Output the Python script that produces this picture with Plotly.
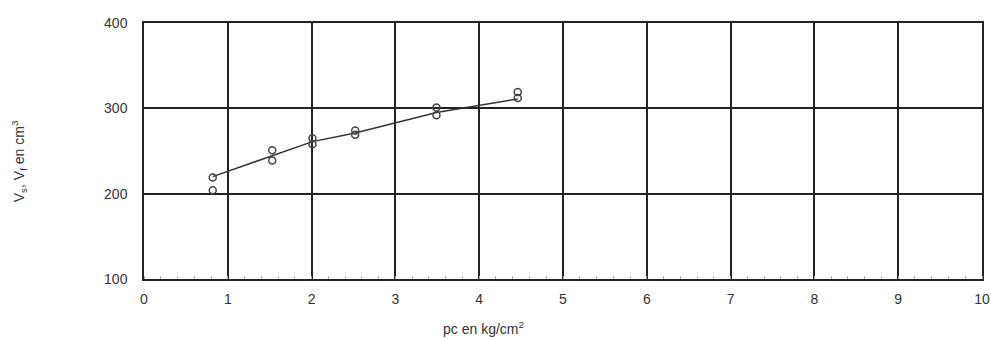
import plotly.graph_objects as go

# Data
pc = [0.82, 1.53, 2.01, 2.52, 3.49, 4.46]
v_upper = [219, 251, 265, 274, 301, 319]
v_lower = [204, 239, 258, 269, 292, 312]
v_line = [220, 245, 261, 271, 295, 311]

x_ticks = [0, 1, 2, 3, 4, 5, 6, 7, 8, 9, 10]
y_ticks = [100, 200, 300, 400]

fig = go.Figure()
fig.add_trace(go.Scatter(x=pc, y=v_line, mode="lines",
                         line=dict(color="#333333", width=1.5), showlegend=False))
fig.add_trace(go.Scatter(x=pc, y=v_upper, mode="markers",
                         marker=dict(symbol="circle-open", size=7, color="#444444",
                                     line=dict(width=1.5)), showlegend=False))
fig.add_trace(go.Scatter(x=pc, y=v_lower, mode="markers",
                         marker=dict(symbol="circle-open", size=7, color="#444444",
                                     line=dict(width=1.5)), showlegend=False))

fig.update_layout(
    width=991, height=339,
    margin=dict(l=144, r=9, t=23, b=60, autoexpand=False),
    paper_bgcolor="white", plot_bgcolor="white",
    font=dict(family="Liberation Sans, Arial, sans-serif", size=14, color="#333333"),
    xaxis=dict(range=[0, 10], tickvals=x_ticks, ticktext=[str(t) for t in x_ticks],
               automargin=False, ticklabelstandoff=6,
               showgrid=True, gridcolor="#222222", gridwidth=1.5,
               showline=True, linecolor="#222222", linewidth=1.5, mirror=True,
               zeroline=False, ticks="", ticklen=0,
               minor=dict(dtick=0.2, ticks="inside", ticklen=3, tickcolor="#aaaaaa")),
    yaxis=dict(range=[100, 400], tickvals=y_ticks, ticktext=[str(t) for t in y_ticks],
               automargin=False, ticklabelstandoff=12,
               showgrid=True, gridcolor="#222222", gridwidth=1.5,
               showline=True, linecolor="#222222", linewidth=1.5, mirror=True,
               zeroline=False, ticks=""),
    annotations=[
        dict(text="pc en kg/cm<sup>2</sup>", xref="paper", yref="paper",
             x=(483 - 144) / 838, y=-0.15, xanchor="center", yanchor="top",
             showarrow=False, font=dict(size=14, color="#333333")),
        dict(text="V<sub>s</sub>, V<sub>f</sub> en cm<sup>3</sup>", xref="paper", yref="paper",
             x=-(144 - 19) / 838, y=0.46, xanchor="center", yanchor="middle",
             textangle=-90, showarrow=False, font=dict(size=14, color="#333333")),
    ],
)

fig.write_html("out.html")
